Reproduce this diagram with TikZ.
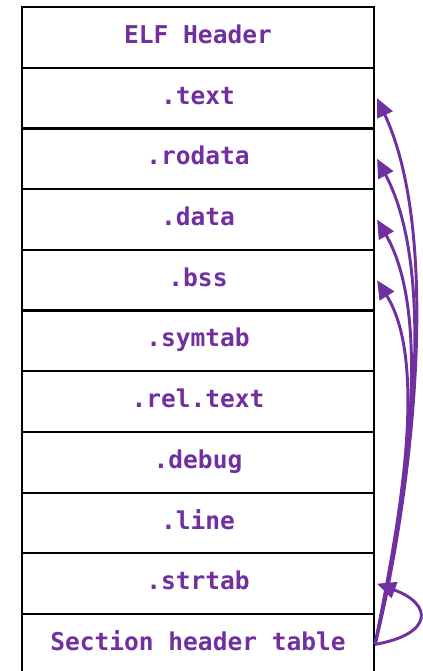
\documentclass[tikz,border=0pt]{standalone}
\usepackage{fontspec}
\newfontfamily\monofnt{DejaVu Sans Mono}
\usetikzlibrary{arrows.meta}
\definecolor{elfpurple}{HTML}{7030A0}
\tikzset{
  secbox/.style={draw=black, line width=1.6pt, minimum width=264pt, minimum height=45.5pt,
    inner sep=0pt, anchor=north, text height=13.5pt, text depth=4.5pt,
    font=\monofnt\bfseries\fontsize{18.4}{21}\selectfont, text=elfpurple},
  ptr/.style={draw=elfpurple, line width=2.2pt, -{Triangle[length=14pt,width=12.5pt]}}
}
\begin{document}
\begin{tikzpicture}[x=0.75pt,y=-0.75pt]
\useasboundingbox (0,0) rectangle (423,671);
\node[secbox] (elf) at (198,6) {ELF Header};
\node[secbox] (text) at (198,66.7) {.text};
\node[secbox] (rodata) at (198,127.4) {.rodata};
\node[secbox] (data) at (198,188.1) {.data};
\node[secbox] (bss) at (198,248.8) {.bss};
\node[secbox] (symtab) at (198,309.5) {.symtab};
\node[secbox] (reltext) at (198,370.2) {.rel.text};
\node[secbox] (debug) at (198,430.9) {.debug};
\node[secbox] (line) at (198,491.6) {.line};
\node[secbox] (strtab) at (198,552.3) {.strtab};
\node[secbox] (sht) at (198,613) {Section header table};
\draw[ptr] (sht.east) to[out=76,in=-65,looseness=0.72] ([xshift=1.5pt]text.east);
\draw[ptr] (sht.east) to[out=77,in=-62,looseness=0.72] ([xshift=1.5pt]rodata.east);
\draw[ptr] (sht.east) to[out=78,in=-60,looseness=0.72] ([xshift=1.5pt]data.east);
\draw[ptr] (sht.east) to[out=79,in=-58,looseness=0.72] ([xshift=1.5pt]bss.east);
\draw[ptr] (sht.east) to[out=10,in=-20,looseness=2.5] ([xshift=1.5pt]strtab.east);
\end{tikzpicture}
\end{document}
